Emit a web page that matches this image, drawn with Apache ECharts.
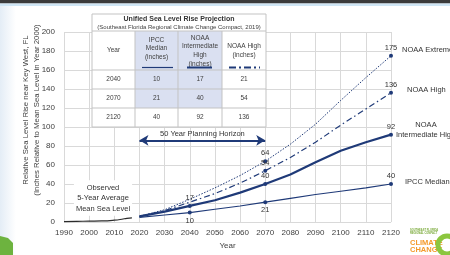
<!DOCTYPE html>
<html>
<head>
<meta charset="utf-8">
<script src="https://cdn.jsdelivr.net/npm/echarts@6/dist/echarts.min.js"></script>
<style>
html, body { margin: 0; padding: 0; background: #fff; }
#main { width: 450px; height: 255px; }
</style>
</head>
<body>
<div id="main"></div>
<script>
// observed 5-year average
const obsYears = [1990, 1995, 2000, 2005, 2010, 2013, 2015, 2017];
const obsLevel = [0.5, 0.8, 1, 1.2, 2, 3, 4, 4.5];

// projections (inches relative to 2000)
const projYears = [2020, 2030, 2040, 2050, 2060, 2070, 2080, 2090, 2100, 2110, 2120];
const ipccMedian = [5, 7.5, 10, 13.5, 17, 21, 25, 29, 32.5, 36, 40];
const noaaIntHigh = [6, 11, 17, 23, 31, 40, 50, 63, 75, 84, 92];
const noaaHigh = [6, 12, 21, 30, 41, 54, 68, 84, 102, 119, 136];
const noaaExtreme = [6, 13, 24, 36, 49, 64, 82, 103, 128, 152, 175];

const horizonYears = [2020, 2070];
const horizonLevel = 86;
const tableYears = [2040, 2070, 2120];

const navy = "#1f3a78";
const font = "Liberation Sans";

function points(vals, marks) {
    return projYears.map((y, i) => {
        let m = marks[y];
        return {
            value: [y, vals[i]],
            symbolSize: m ? 4 : 0,
            label: m ? { show: true, position: m } : { show: false },
        };
    });
}

const band = projYears.filter((y) => y <= horizonYears[1]);

// table
const tx = [92, 135, 178, 222, 266];
const ty = [14, 31, 70, 89, 108, 127];
const shade = "#dae0f1";
const border = "#c3c3c3";
let table = [];
table.push({ type: "rect", shape: { x: tx[0], y: ty[0], width: tx[4] - tx[0], height: ty[5] - ty[0] }, style: { fill: "#fff", stroke: border, lineWidth: 1 }, z: 10 });
[1, 2].forEach((c) => {
    table.push({ type: "rect", shape: { x: tx[c], y: ty[1], width: tx[c + 1] - tx[c], height: ty[4] - ty[1] }, style: { fill: shade }, z: 10 });
});
for (let r = 1; r < 5; r++) {
    table.push({ type: "line", shape: { x1: tx[0], y1: ty[r], x2: tx[4], y2: ty[r] }, style: { stroke: border, lineWidth: 1 }, z: 11 });
}
for (let c = 1; c < 4; c++) {
    table.push({ type: "line", shape: { x1: tx[c], y1: ty[1], x2: tx[c], y2: ty[5] }, style: { stroke: border, lineWidth: 1 }, z: 11 });
}
function ttext(str, x, y, opts) {
    return {
        type: "text", x: x, y: y, z: 12,
        style: Object.assign({ text: str, fill: "#404040", fontSize: 6.5, fontFamily: font, align: "center", verticalAlign: "middle", lineHeight: 8.7 }, opts || {}),
    };
}
table.push(ttext("Unified Sea Level Rise Projection", 179, 19, { fontSize: 7, fontWeight: "bold", fill: "#333" }));
table.push(ttext("(Southeast Florida Regional Climate Change Compact, 2019)", 179, 27, { fontSize: 6 }));
table.push(ttext("Year", 113.5, 50.5));
table.push(ttext("IPCC\nMedian\n(inches)", 156.5, 48.5));
table.push(ttext("NOAA\nIntermediate\nHigh\n(inches)", 200, 51));
table.push(ttext("NOAA High\n(inches)", 244, 51));
table.push({ type: "line", shape: { x1: 142, y1: 67.5, x2: 173, y2: 67.5 }, style: { stroke: navy, lineWidth: 1.2 }, z: 12 });
table.push({ type: "line", shape: { x1: 187, y1: 67.5, x2: 212, y2: 67.5 }, style: { stroke: navy, lineWidth: 2 }, z: 12 });
table.push({ type: "line", shape: { x1: 229, y1: 67.5, x2: 260, y2: 67.5 }, style: { stroke: navy, lineWidth: 2, lineDash: [7, 3, 2, 3] }, z: 12 });
tableYears.forEach((yr, r) => {
    let i = projYears.indexOf(yr);
    let cy = (ty[r + 2] + ty[r + 3]) / 2;
    table.push(ttext(String(yr), 113.5, cy));
    table.push(ttext(String(ipccMedian[i]), 156.5, cy));
    table.push(ttext(String(noaaIntHigh[i]), 200, cy));
    table.push(ttext(String(noaaHigh[i]), 244, cy));
});

function note(str, x, y, opts) {
    return {
        type: "text", x: x, y: y, z: 12,
        style: Object.assign({ text: str, fill: "#333", fontSize: 7.5, fontFamily: font, align: "left", verticalAlign: "middle" }, opts || {}),
    };
}

let myChart = echarts.init(document.getElementById("main"));
let option = {
    backgroundColor: "#fff",
    animation: false,
    textStyle: { fontFamily: font },
    grid: { left: 64, right: 59, top: 32, bottom: 32 },
    xAxis: {
        type: "value",
        min: 1990,
        max: 2120,
        interval: 10,
        axisLine: { show: false },
        axisTick: { show: false },
        splitLine: { lineStyle: { color: "#d9d9d9" } },
        axisLabel: { color: "#404040", fontSize: 8, margin: 7, formatter: (v) => String(v) },
        name: "Year",
        nameLocation: "middle",
        nameGap: 19,
        nameTextStyle: { color: "#404040", fontSize: 8 },
    },
    yAxis: {
        type: "value",
        min: 0,
        max: 200,
        interval: 20,
        axisLine: { show: false },
        axisTick: { show: false },
        splitLine: { lineStyle: { color: "#d9d9d9" } },
        axisLabel: { color: "#404040", fontSize: 8, margin: 9 },
    },
    graphic: [
        { type: "rect", shape: { x: 0, y: 0, width: 450, height: 3.5 }, style: { fill: "#3b3b3b" }, z: 20 },
        { type: "rect", shape: { x: 0, y: 3.5, width: 450, height: 2.5 }, style: { fill: "#cfe6f5" }, z: 20 },
        {
            type: "rect", shape: { x: 0, y: 6, width: 16, height: 249 }, z: -1,
            style: { fill: new echarts.graphic.LinearGradient(0, 0, 1, 0, [{ offset: 0, color: "#e4edf6" }, { offset: 1, color: "#ffffff" }]) },
        },
        { type: "polygon", shape: { points: [[0, 236], [8, 238], [13, 243], [13, 255], [0, 255]] }, style: { fill: "#6db33f" }, z: 1 },
        {
            type: "text", x: 26, y: 110, rotation: Math.PI / 2, z: 12,
            style: { text: "Relative Sea Level Rise near Key West, FL", fill: "#404040", fontSize: 7.8, fontFamily: font, align: "center", verticalAlign: "middle" },
        },
        {
            type: "text", x: 37, y: 110, rotation: Math.PI / 2, z: 12,
            style: { text: "(Inches Relative to Mean Sea Level in Year 2000)", fill: "#404040", fontSize: 7.8, fontFamily: font, align: "center", verticalAlign: "middle" },
        },
        {
            type: "text", x: 103, y: 198, z: 12,
            style: { text: "Observed\n5-Year Average\nMean Sea Level", fill: "#333", fontSize: 7.5, lineHeight: 10.5, fontFamily: font, align: "center", verticalAlign: "middle", backgroundColor: "#fff", padding: [2, 2] },
        },
        note("NOAA Extreme", 402, 50),
        note("NOAA High", 407, 90),
        note("NOAA", 426, 125, { align: "center" }),
        note("Intermediate High", 396, 134.5),
        note("IPCC Median", 405, 182),
        note("SOUTHEAST FLORIDA\nREGIONAL COMPACT", 410, 232, { fontSize: 2.6, lineHeight: 3, fill: "#7aaa3a", fontWeight: "bold" }),
        note("CLIMATE\nCHANGE", 410, 246, { fontSize: 7.5, lineHeight: 7, fill: "#f39a2b", fontWeight: "bold" }),
        { type: "circle", shape: { cx: 447, cy: 245, r: 9 }, style: { fill: "none", stroke: "#8cc63f", lineWidth: 5 }, z: 12 },
    ].concat(table),
    series: [
        {
            name: "Observed",
            type: "line",
            data: obsYears.map((y, i) => [y, obsLevel[i]]),
            showSymbol: false,
            smooth: true,
            lineStyle: { color: "#2b2b2b", width: 1.2 },
            z: 3,
        },
        {
            name: "base",
            type: "line",
            stack: "band",
            data: band.map((y, i) => [y, ipccMedian[i]]),
            showSymbol: false,
            lineStyle: { opacity: 0 },
            silent: true,
            z: 1,
        },
        {
            name: "band",
            type: "line",
            stack: "band",
            data: band.map((y, i) => [y, noaaIntHigh[i] - ipccMedian[i]]),
            showSymbol: false,
            lineStyle: { opacity: 0 },
            areaStyle: { color: "#d3dbf0", opacity: 1 },
            silent: true,
            z: 1,
        },
        {
            name: "NOAA Extreme",
            type: "line",
            data: points(noaaExtreme, { 2070: "top", 2120: "top" }),
            symbol: "circle",
            lineStyle: { color: navy, width: 1, type: [1.5, 1.5] },
            itemStyle: { color: navy },
            label: { color: "#333", fontSize: 7.5, distance: 2 },
            z: 4,
        },
        {
            name: "NOAA High",
            type: "line",
            data: points(noaaHigh, { 2070: "top", 2120: "top" }),
            symbol: "circle",
            lineStyle: { color: navy, width: 1.2, type: [6, 3, 1.5, 3] },
            itemStyle: { color: navy },
            label: { color: "#333", fontSize: 7.5, distance: 2 },
            z: 4,
        },
        {
            name: "NOAA Intermediate High",
            type: "line",
            data: points(noaaIntHigh, { 2040: "top", 2070: "top", 2120: "top" }),
            symbol: "circle",
            lineStyle: { color: navy, width: 2.2 },
            itemStyle: { color: navy },
            label: { color: "#333", fontSize: 7.5, distance: 2 },
            z: 5,
            markLine: {
                silent: true,
                symbol: ["arrow", "arrow"],
                symbolSize: [8, 9],
                lineStyle: { color: navy, width: 2, type: "solid" },
                label: { show: true, position: "middle", formatter: "50 Year Planning Horizon", color: "#333", fontSize: 7.5, distance: 2 },
                data: [[{ coord: [horizonYears[0], horizonLevel] }, { coord: [horizonYears[1], horizonLevel] }]],
            },
        },
        {
            name: "IPCC Median",
            type: "line",
            data: points(ipccMedian, { 2040: "bottom", 2070: "bottom", 2120: "top" }),
            symbol: "circle",
            lineStyle: { color: navy, width: 1.1 },
            itemStyle: { color: navy },
            label: { color: "#333", fontSize: 7.5, distance: 2 },
            z: 4,
        },
    ],
};
myChart.setOption(option);
</script>
</body>
</html>
